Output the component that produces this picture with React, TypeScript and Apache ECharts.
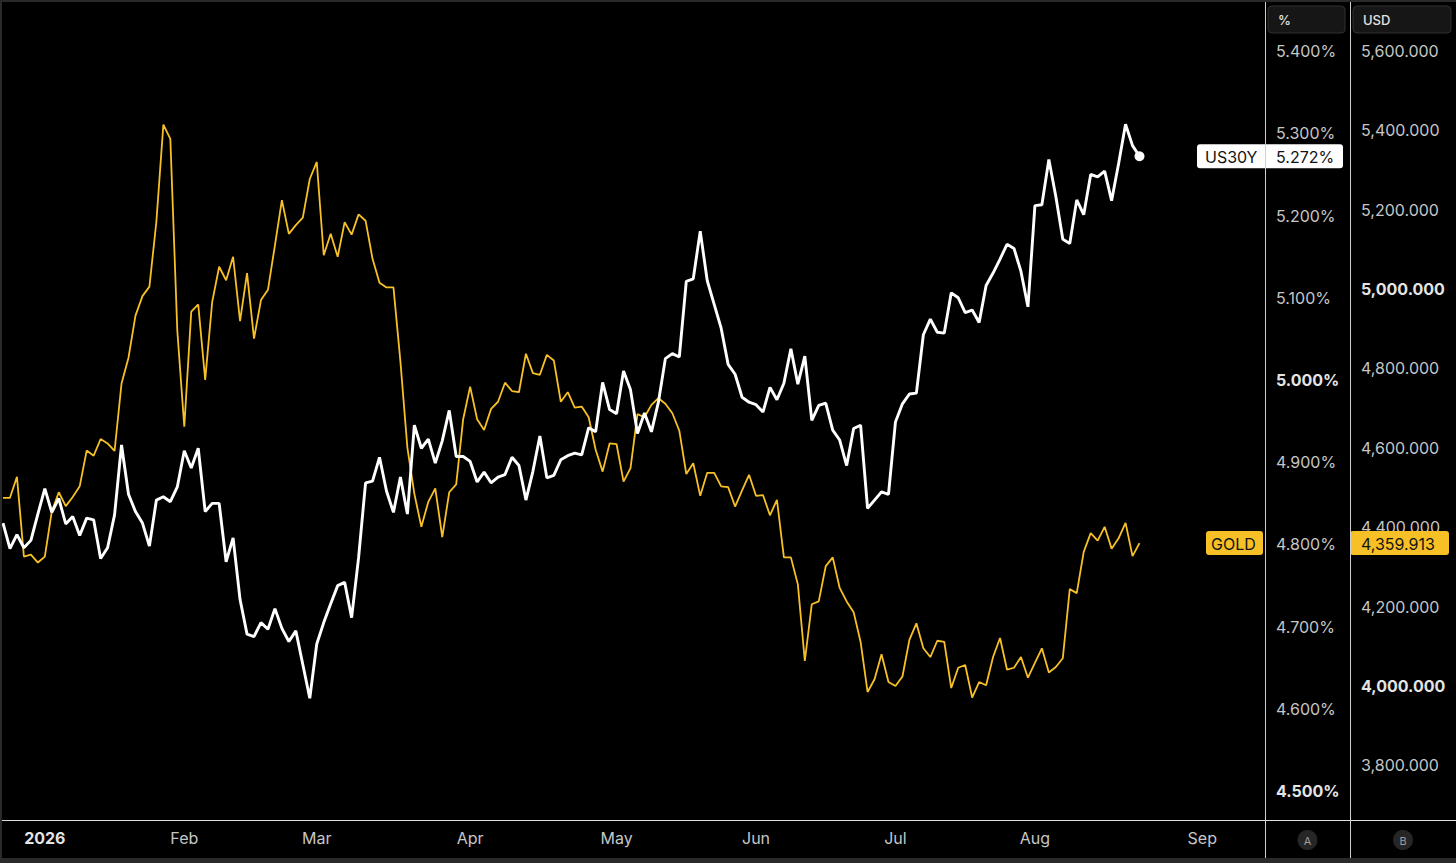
import React, { useEffect, useRef } from 'react';
import * as echarts from 'echarts';

// ---- data ----
const yieldValues = [
  4.826, 4.795, 4.812, 4.796, 4.805, 4.837, 4.868, 4.839, 4.856, 4.825,
  4.834, 4.811, 4.832, 4.830, 4.783, 4.796, 4.836, 4.921, 4.861, 4.840,
  4.826, 4.798, 4.854, 4.858, 4.852, 4.870, 4.914, 4.893, 4.917, 4.840,
  4.850, 4.850, 4.779, 4.808, 4.733, 4.691, 4.688, 4.705, 4.697, 4.722,
  4.698, 4.682, 4.695, 4.654, 4.613, 4.679, 4.705, 4.728, 4.750, 4.754,
  4.711, 4.784, 4.875, 4.877, 4.906, 4.865, 4.839, 4.882, 4.837, 4.945,
  4.917, 4.928, 4.899, 4.926, 4.963, 4.907, 4.907, 4.901, 4.876, 4.888,
  4.875, 4.882, 4.885, 4.906, 4.896, 4.854, 4.889, 4.932, 4.881, 4.884,
  4.903, 4.908, 4.911, 4.909, 4.942, 4.937, 4.997, 4.964, 4.959, 5.011,
  4.988, 4.935, 4.960, 4.937, 4.973, 5.026, 5.032, 5.028, 5.120, 5.123,
  5.181, 5.121, 5.092, 5.063, 5.019, 5.007, 4.979, 4.973, 4.970, 4.961,
  4.991, 4.976, 4.996, 5.038, 4.995, 5.029, 4.951, 4.969, 4.972, 4.939,
  4.927, 4.896, 4.941, 4.945, 4.844, 4.854, 4.864, 4.861, 4.949, 4.971,
  4.983, 4.984, 5.055, 5.074, 5.058, 5.057, 5.106, 5.100, 5.082, 5.085,
  5.070, 5.115, 5.130, 5.147, 5.165, 5.160, 5.132, 5.089, 5.212, 5.213,
  5.268, 5.223, 5.171, 5.166, 5.219, 5.201, 5.250, 5.247, 5.254, 5.218,
  5.263, 5.311, 5.285, 5.272,
];

const goldValues = [
  4474, 4474, 4527, 4326, 4331, 4311, 4326, 4440, 4488, 4453,
  4476, 4503, 4593, 4580, 4622, 4611, 4592, 4762, 4827, 4933,
  4982, 5006, 5170, 5414, 5378, 4895, 4653, 4943, 4961, 4771,
  4967, 5056, 5022, 5081, 4919, 5040, 4875, 4972, 4998, 5110,
  5224, 5139, 5161, 5180, 5277, 5320, 5085, 5139, 5081, 5168,
  5137, 5188, 5172, 5076, 5016, 5004, 5004, 4817, 4600, 4484,
  4401, 4464, 4498, 4375, 4488, 4508, 4672, 4754, 4672, 4645,
  4698, 4716, 4764, 4743, 4740, 4837, 4788, 4784, 4834, 4820,
  4716, 4740, 4701, 4704, 4677, 4595, 4540, 4611, 4609, 4515,
  4549, 4685, 4677, 4708, 4725, 4711, 4687, 4643, 4534, 4561,
  4479, 4537, 4537, 4503, 4501, 4452, 4493, 4532, 4479, 4481,
  4430, 4469, 4324, 4324, 4256, 4063, 4206, 4213, 4302, 4324,
  4247, 4213, 4186, 4111, 3985, 4017, 4080, 4010, 4000, 4024,
  4116, 4158, 4095, 4073, 4114, 4111, 3995, 4046, 4053, 3971,
  4010, 4002, 4073, 4121, 4041, 4046, 4073, 4021, 4058, 4095,
  4034, 4048, 4070, 4244, 4234, 4338, 4385, 4366, 4401, 4346,
  4372, 4411, 4327, 4359.913,
];

// trading-day slots on the time axis (data + empty future slots)
const SLOT_COUNT = 182;
const categories = Array.from({ length: SLOT_COUNT }, (_, i) => String(i));
const monthTickSlots = [6, 26, 45, 67, 88, 108, 128, 148, 172];
const monthTickLabels = ['2026', 'Feb', 'Mar', 'Apr', 'May', 'Jun', 'Jul', 'Aug', 'Sep'];
const boldMonthLabels = ['2026'];

const yieldTicks = [4.5, 4.6, 4.7, 4.8, 4.9, 5.0, 5.1, 5.2, 5.3, 5.4];
const yieldBoldTicks = [5.0, 4.5];
const goldTicks = [3800, 4000, 4200, 4400, 4600, 4800, 5000, 5200, 5400, 5600];
const goldBoldTicks = [5000, 4000];

const yieldName = 'US30Y';
const goldName = 'GOLD';
const yieldUnit = '%';
const goldUnit = 'USD';

const FONT = 'Inter, "Noto Sans", "DejaVu Sans", sans-serif';
const GOLD_COLOR = '#f6c026';
const LABEL_COLOR = '#c6c6c6';
const BOLD_COLOR = '#e4e4e4';
const SEP_COLOR = '#cfcfcf';
const FRAME_COLOR = '#2a2a2a';

const W = 1456;
const H = 863;
const AXIS_A_X = 1265;
const AXIS_B_X = 1350;
const BOTTOM_Y = 820;

const fmtYield = (v: number) => v.toFixed(3) + '%';
const fmtGold = (v: number) =>
  v.toLocaleString('en-US', { minimumFractionDigits: 3, maximumFractionDigits: 3 });

export default function App() {
  const ref = useRef<HTMLDivElement>(null);

  useEffect(() => {
    document.body.style.margin = '0';
    document.body.style.background = '#000';
    if (!ref.current) return;
    const chart = echarts.init(ref.current, null, { renderer: 'svg' });

    const lastIdx = yieldValues.length - 1;
    const lastYield = yieldValues[lastIdx];
    const lastGold = goldValues[goldValues.length - 1];

    const option: any = {
      animation: false,
      backgroundColor: '#000',
      grid: {
        left: 3,
        right: W - AXIS_A_X,
        top: 2,
        bottom: H - BOTTOM_Y,
        containLabel: false,
      },
      xAxis: {
        type: 'category',
        data: categories,
        boundaryGap: false,
        axisLine: { show: false },
        axisTick: { show: false },
        splitLine: { show: false },
        axisLabel: {
          interval: (index: number) => monthTickSlots.includes(index),
          formatter: (_v: string, index: number) => {
            const k = monthTickSlots.indexOf(index);
            if (k < 0) return '';
            const lab = monthTickLabels[k];
            return boldMonthLabels.includes(lab) ? `{b|${lab}}` : lab;
          },
          color: LABEL_COLOR,
          fontSize: 16,
          fontFamily: FONT,
          margin: 10,
          rich: {
            b: { fontSize: 16, fontFamily: FONT, fontWeight: 'bold', color: BOLD_COLOR },
          },
        },
      },
      yAxis: [
        {
          type: 'value',
          position: 'right',
          min: 4.465,
          max: 5.4596,
          axisLine: { show: false },
          axisTick: { show: false },
          splitLine: { show: false },
          axisLabel: {
            customValues: yieldTicks,
            align: 'left',
            margin: 11,
            color: LABEL_COLOR,
            fontSize: 16,
            fontFamily: FONT,
            formatter: (v: number) => {
              const s = fmtYield(v);
              return yieldBoldTicks.some((b) => Math.abs(b - v) < 1e-6) ? `{b|${s}}` : s;
            },
            rich: {
              b: { fontSize: 16, fontFamily: FONT, fontWeight: 'bold', color: BOLD_COLOR },
            },
          },
        },
        {
          type: 'value',
          position: 'right',
          offset: AXIS_B_X - AXIS_A_X,
          min: 3662.5,
          max: 5722.9,
          axisLine: { show: false },
          axisTick: { show: false },
          splitLine: { show: false },
          axisLabel: {
            customValues: goldTicks,
            align: 'left',
            margin: 11,
            color: LABEL_COLOR,
            fontSize: 16,
            fontFamily: FONT,
            formatter: (v: number) => {
              const s = fmtGold(v);
              return goldBoldTicks.some((b) => Math.abs(b - v) < 1e-6) ? `{b|${s}}` : s;
            },
            rich: {
              b: { fontSize: 16, fontFamily: FONT, fontWeight: 'bold', color: BOLD_COLOR },
            },
          },
        },
      ],
      series: [
        {
          name: goldName,
          type: 'line',
          yAxisIndex: 1,
          data: goldValues,
          showSymbol: false,
          lineStyle: { color: GOLD_COLOR, width: 1.8 },
          itemStyle: { color: GOLD_COLOR },
          z: 2,
        },
        {
          name: yieldName,
          type: 'line',
          yAxisIndex: 0,
          data: yieldValues,
          showSymbol: false,
          lineStyle: { color: '#ffffff', width: 2.9 },
          itemStyle: { color: '#ffffff' },
          z: 3,
        },
        {
          name: yieldName + ' last',
          type: 'scatter',
          yAxisIndex: 0,
          data: [[lastIdx, lastYield]],
          symbolSize: 10,
          itemStyle: { color: '#ffffff', opacity: 1 },
          z: 4,
        },
      ],
    };

    chart.setOption(option);

    const yPix = chart.convertToPixel({ yAxisIndex: 0 } as any, lastYield) as number;
    const gPix = chart.convertToPixel({ yAxisIndex: 1 } as any, lastGold) as number;

    const txt = (x: number, y: number, text: string, fill: string, size: number, weight: any = 'normal', align = 'left') => ({
      type: 'text',
      x,
      y,
      z: 60,
      style: {
        text,
        fill,
        fontSize: size,
        fontFamily: FONT,
        fontWeight: weight,
        align,
        verticalAlign: 'middle',
      },
    });

    const graphic: any[] = [
      // header boxes
      {
        type: 'rect',
        z: 50,
        shape: { x: 1268, y: 6, width: 77, height: 27, r: 4 },
        style: { fill: '#161616', stroke: '#303030', lineWidth: 1 },
      },
      txt(1278, 20, yieldUnit, '#e2e2e2', 13, 500),
      {
        type: 'rect',
        z: 50,
        shape: { x: 1353, y: 6, width: 98, height: 27, r: 4 },
        style: { fill: '#161616', stroke: '#303030', lineWidth: 1 },
      },
      txt(1363, 20, goldUnit, '#e2e2e2', 13, 500),
      // US30Y last value label
      {
        type: 'rect',
        z: 50,
        shape: { x: 1197, y: yPix - 12, width: 146, height: 24, r: 3 },
        style: { fill: '#ffffff' },
      },
      txt(1205, yPix + 0.5, yieldName, '#131313', 16),
      txt(1276, yPix + 0.5, fmtYield(lastYield), '#131313', 16),
      // GOLD last value label
      {
        type: 'rect',
        z: 50,
        shape: { x: 1206, y: gPix - 12, width: 57, height: 24, r: 3 },
        style: { fill: GOLD_COLOR },
      },
      txt(1211, gPix + 0.5, goldName, '#131313', 16),
      {
        type: 'rect',
        z: 50,
        shape: { x: 1350, y: gPix - 12, width: 99, height: 24, r: 3 },
        style: { fill: GOLD_COLOR },
      },
      txt(1361, gPix + 0.5, fmtGold(lastGold), '#131313', 16),
      // separators
      {
        type: 'line',
        z: 70,
        shape: { x1: AXIS_A_X + 0.5, y1: 2, x2: AXIS_A_X + 0.5, y2: 858 },
        style: { stroke: SEP_COLOR, lineWidth: 1 },
      },
      {
        type: 'line',
        z: 70,
        shape: { x1: AXIS_B_X + 0.5, y1: 2, x2: AXIS_B_X + 0.5, y2: 858 },
        style: { stroke: SEP_COLOR, lineWidth: 1 },
      },
      {
        type: 'line',
        z: 70,
        shape: { x1: 2, y1: BOTTOM_Y + 0.5, x2: W, y2: BOTTOM_Y + 0.5 },
        style: { stroke: '#dddddd', lineWidth: 1 },
      },
      // A / B buttons
      { type: 'circle', z: 60, shape: { cx: 1307.5, cy: 840, r: 10 }, style: { fill: '#262626' } },
      txt(1307.5, 840.5, 'A', '#9c9c9c', 11, 'normal', 'center'),
      { type: 'circle', z: 60, shape: { cx: 1403, cy: 840, r: 10 }, style: { fill: '#262626' } },
      txt(1403, 840.5, 'B', '#9c9c9c', 11, 'normal', 'center'),
      // frame
      { type: 'rect', z: 80, shape: { x: 0, y: 0, width: W, height: 2 }, style: { fill: FRAME_COLOR } },
      { type: 'rect', z: 80, shape: { x: 0, y: 0, width: 2, height: H }, style: { fill: FRAME_COLOR } },
      { type: 'rect', z: 80, shape: { x: 0, y: 858, width: W, height: 5 }, style: { fill: FRAME_COLOR } },
    ];

    chart.setOption({ graphic });

    return () => {
      chart.dispose();
    };
  }, []);

  return <div ref={ref} style={{ width: W, height: H }} />;
}
